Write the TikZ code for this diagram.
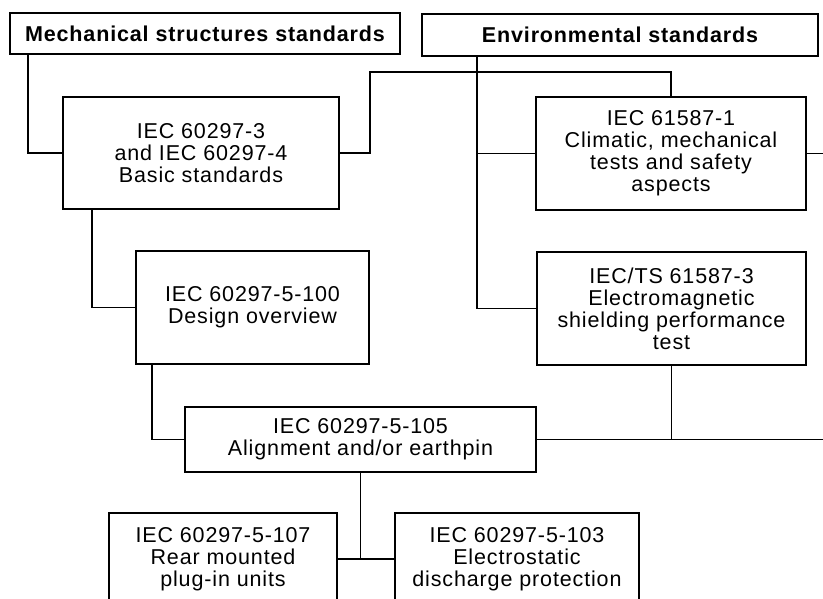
\documentclass[tikz,border=0pt]{standalone}
\usepackage{fontspec}
\setmainfont{Liberation Sans}[LetterSpace=4]
\usetikzlibrary{calc}

\begin{document}
\begin{tikzpicture}[x=1pt,y=-1pt,line width=1.8pt,
  box/.style={draw,align=center,inner sep=0pt,font=\fontsize{21.5}{22}\selectfont},
  head/.style={box,font=\bfseries\fontsize{21.5}{22}\selectfont}]
\useasboundingbox (0,0) rectangle (823,598);
\clip (0,0) rectangle (823,598);
\node[head,minimum width=390pt,minimum height=41pt] (mech) at (205,33.5) {Mechanical structures standards};
\node[head,minimum width=396pt,minimum height=42pt] (env) at (620,35) {Environmental standards};
\node[box,minimum width=276pt,minimum height=112pt] (basic) at (201,153) {IEC 60297-3\\and IEC 60297-4\\Basic standards};
\node[box,minimum width=270pt,minimum height=113pt] (clim) at (671,153.5) {IEC 61587-1\\Climatic, mechanical\\tests and safety\\aspects};
\node[box,minimum width=233pt,minimum height=113pt] (design) at (252.5,307.5) {IEC 60297-5-100\\Design overview};
\node[box,minimum width=269pt,minimum height=113pt] (emc) at (671.5,308.5) {IEC/TS 61587-3\\Electromagnetic\\shielding performance\\test};
\node[box,minimum width=351pt,minimum height=65pt] (align) at (360.5,439.5) {IEC 60297-5-105\\Alignment and/or earthpin};
\node[box,minimum width=228pt,minimum height=92pt] (rear) at (223,559) {IEC 60297-5-107\\Rear mounted\\plug-in units};
\node[box,minimum width=244pt,minimum height=92pt] (esd) at (517,559) {IEC 60297-5-103\\Electrostatic\\discharge protection};
% mechanical side
\coordinate (m1) at ($(mech.south west)+(19,0)$);
\draw (m1) |- (basic.west);
\coordinate (k1) at (370,72);
\draw (basic.east) -| (k1) -| (clim.north);
\draw ($(basic.south west)+(30,0)$) |- (design.west);
\draw ($(design.south west)+(17,0)$) |- (align.west);
% environmental side
\coordinate (e1) at ($(env.south west)+(56,0)$);
\draw (e1) |- (emc.west);
\draw (e1 |- clim.west) -- (clim.west);
\draw (clim.east) -- ++(30,0);
\draw (emc.south) -- (emc.south |- align.east);
\draw (align.east) -- ++(300,0);
% lower branch
\coordinate (j1) at (align.south |- rear.east);
\draw (align.south) -- (j1);
\draw (rear.east) -- (esd.west);
\end{tikzpicture}
\end{document}
